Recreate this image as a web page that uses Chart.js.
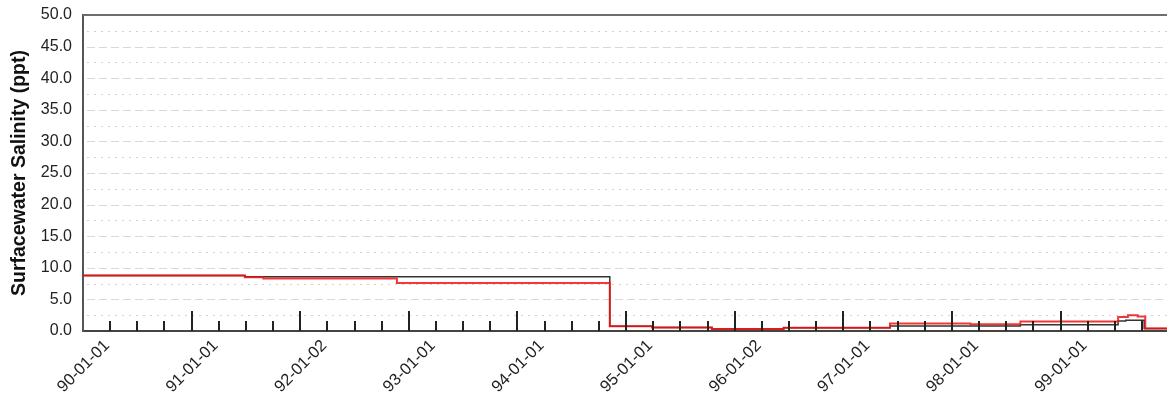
<!DOCTYPE html>
<html>
<head>
<meta charset="utf-8">
<script src="https://cdn.jsdelivr.net/npm/chart.js@4.4.1/dist/chart.umd.min.js"></script>
<style>
  html, body { margin: 0; padding: 0; background: #fff; }
  #wrap { width: 1167px; height: 404px; position: relative; }
</style>
</head>
<body>
<div id="wrap"><canvas id="salinityChart"></canvas></div>
<script>
// year ticks on the x axis (decimal years) and their labels
const tickYears = [1990, 1991, 1992, 1993, 1994, 1995, 1996, 1997, 1998, 1999];
const tickLabels = ["90-01-01", "91-01-01", "92-01-02", "93-01-01", "94-01-01",
  "95-01-01", "96-01-02", "97-01-01", "98-01-01", "99-01-01"];

// red series: change dates (decimal years) and salinity (ppt)
const redDates = [1990.0, 1991.49, 1991.66, 1992.89, 1994.85, 1995.24, 1995.79, 1996.45,
  1997.43, 1998.17, 1998.63, 1999.53, 1999.62, 1999.71, 1999.78, 1999.99];
const redValues = [8.8, 8.5, 8.3, 7.6, 0.75, 0.55, 0.3, 0.5,
  1.2, 1.05, 1.5, 2.2, 2.5, 2.3, 0.4, 0.4];

// black series
const blackDates = [1990.0, 1991.49, 1994.85, 1995.24, 1995.79, 1996.45,
  1997.43, 1998.63, 1999.53, 1999.6, 1999.77, 1999.99];
const blackValues = [8.8, 8.6, 0.75, 0.55, 0.3, 0.5,
  0.8, 1.0, 1.6, 1.7, 0.4, 0.4];

const FONT = "'Liberation Sans', Arial, sans-serif";

function toPoints(xs, ys) {
  return xs.map((x, i) => ({ x: x, y: ys[i] }));
}

// grid lines, top border and the tick marks inside the plot
const decorPlugin = {
  id: "decor",
  beforeDatasetsDraw(chart) {
    const { ctx, chartArea, scales } = chart;
    const y = scales.y;
    ctx.save();
    ctx.lineWidth = 1;
    for (let v = 2.5; v < 50; v += 2.5) {
      const py = Math.round(y.getPixelForValue(v)) + 0.5;
      const major = Math.abs(v % 5) < 0.001;
      ctx.strokeStyle = major ? "#d8d8d8" : "#d0d0d0";
      ctx.setLineDash(major ? [8, 4] : [2, 5]);
      ctx.beginPath();
      ctx.moveTo(chartArea.left + 4, py);
      ctx.lineTo(chartArea.right, py);
      ctx.stroke();
    }
    ctx.restore();
  },
  afterDatasetsDraw(chart) {
    const { ctx, chartArea, scales } = chart;
    const x = scales.x;
    ctx.save();
    ctx.strokeStyle = "#222";
    ctx.lineWidth = 2;
    tickYears.forEach((yr) => {
      for (let q = 0; q < 4; q++) {
        const v = yr + q * 0.25;
        if (v <= tickYears[0]) continue;
        const px = Math.round(x.getPixelForValue(v));
        const len = q === 0 ? 20 : 10;
        ctx.beginPath();
        ctx.moveTo(px, chartArea.bottom);
        ctx.lineTo(px, chartArea.bottom - len);
        ctx.stroke();
      }
    });
    // top frame line
    ctx.strokeStyle = "#6e6e6e";
    ctx.beginPath();
    ctx.moveTo(chartArea.left, chartArea.top);
    ctx.lineTo(chartArea.right, chartArea.top);
    ctx.stroke();
    ctx.restore();
  }
};

const ctx = document.getElementById("salinityChart").getContext("2d");
new Chart(ctx, {
  type: "line",
  data: {
    datasets: [
      {
        label: "Red",
        data: toPoints(redDates, redValues),
        borderColor: "rgba(240, 20, 20, 0.85)",
        borderWidth: 2,
        stepped: true,
        pointRadius: 0,
        fill: false,
      },
      {
        label: "Black",
        data: toPoints(blackDates, blackValues),
        borderColor: "#333",
        borderWidth: 1.5,
        stepped: true,
        pointRadius: 0,
        fill: false,
      },
    ],
  },
  options: {
    responsive: true,
    maintainAspectRatio: false,
    animation: false,
    layout: { padding: { top: 15, right: 0, left: 0, bottom: 0 } },
    plugins: {
      legend: { display: false },
      tooltip: { enabled: false },
    },
    scales: {
      x: {
        type: "linear",
        min: 1990,
        max: 1999.98,
        grid: { display: false },
        border: { display: true, color: "#444", width: 2 },
        afterBuildTicks: (scale) => {
          scale.ticks = tickYears.map((v) => ({ value: v }));
        },
        afterFit: (scale) => {
          scale.height = 73;
          scale.paddingLeft = 0;
          scale.paddingRight = 0;
        },
        ticks: {
          autoSkip: false,
          minRotation: 45,
          maxRotation: 45,
          labelOffset: 24,
          padding: -3,
          color: "#222",
          font: { family: FONT, size: 16.5 },
          callback: (value, index) => tickLabels[index],
        },
      },
      y: {
        min: 0,
        max: 50,
        grid: { display: false },
        border: { display: true, color: "#555", width: 2 },
        afterFit: (scale) => {
          scale.width = 83;
          scale.paddingTop = 0;
          scale.paddingBottom = 0;
        },
        ticks: {
          stepSize: 5,
          padding: 3,
          color: "#222",
          font: { family: FONT, size: 16 },
          callback: (value) => value.toFixed(1),
        },
        title: {
          display: true,
          text: "Surfacewater Salinity (ppt)",
          color: "#111",
          padding: { top: 8, bottom: 0 },
          font: { family: FONT, size: 19.5, weight: "bold" },
        },
      },
    },
  },
  plugins: [decorPlugin],
});
</script>
</body>
</html>
